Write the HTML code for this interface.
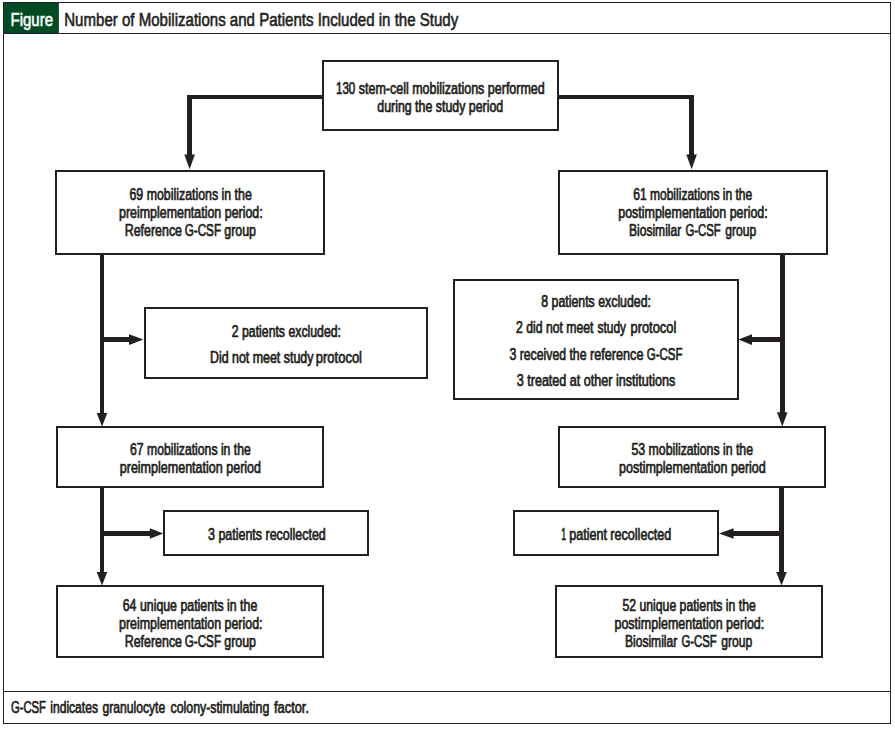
<!DOCTYPE html>
<html lang="en">
<head>
<meta charset="utf-8">
<title>Figure. Number of Mobilizations and Patients Included in the Study</title>
<style>
html,body{margin:0;padding:0;background:#fff;}
body{width:895px;height:729px;overflow:hidden;}
svg{display:block;}
text{font-family:"Liberation Sans",sans-serif;}
</style>
</head>
<body>
<svg width="895" height="729" viewBox="0 0 895 729">
<rect x="0" y="0" width="895" height="729" fill="#ffffff"/>
<!-- outer frame, header and footer rules -->
<g fill="none" stroke="#231f20" stroke-width="1" shape-rendering="crispEdges">
<rect x="3.5" y="2.5" width="887" height="721"/>
<line x1="3.5" y1="33.5" x2="890.5" y2="33.5"/>
<line x1="3.5" y1="691.5" x2="890.5" y2="691.5"/>
</g>
<rect x="4" y="3" width="54.9" height="30" fill="#004b23"/>
<!-- connectors -->
<g fill="#231f20">
<rect x="187" y="95" width="136" height="4"/>
<rect x="187" y="95" width="5" height="60"/>
<rect x="558" y="95" width="136" height="4"/>
<rect x="689" y="95" width="5" height="60"/>
<rect x="100" y="254" width="4" height="160"/>
<rect x="102" y="337" width="28" height="5"/>
<rect x="780" y="254" width="5" height="159"/>
<rect x="751" y="337" width="31" height="5"/>
<rect x="100" y="487" width="4" height="86"/>
<rect x="102" y="531" width="49" height="5"/>
<rect x="779" y="487" width="5" height="86"/>
<rect x="733" y="531" width="48" height="5"/>
</g>
<g fill="#231f20">
<polygon points="189.60,169.30 184.30,154.40 194.90,154.40"/>
<polygon points="691.60,169.30 686.30,154.40 696.90,154.40"/>
<polygon points="102.00,426.60 96.70,413.10 107.30,413.10"/>
<polygon points="143.40,339.60 129.00,334.30 129.00,344.90"/>
<polygon points="782.30,426.40 777.00,412.30 787.60,412.30"/>
<polygon points="738.40,339.60 752.00,334.30 752.00,344.90"/>
<polygon points="102.00,585.60 96.70,572.00 107.30,572.00"/>
<polygon points="163.30,533.50 149.80,528.20 149.80,538.80"/>
<polygon points="781.50,585.60 776.20,572.00 786.80,572.00"/>
<polygon points="719.00,533.50 733.60,528.20 733.60,538.80"/>
</g>
<!-- boxes -->
<g fill="#ffffff" stroke="#231f20" stroke-width="2">
<rect x="323.00" y="61.00" width="235.00" height="69.00"/>
<rect x="56.00" y="171.00" width="268.00" height="83.00"/>
<rect x="559.00" y="171.00" width="268.00" height="83.00"/>
<rect x="145.00" y="308.00" width="282.00" height="70.00"/>
<rect x="454.00" y="280.00" width="284.00" height="119.00"/>
<rect x="57.00" y="427.00" width="266.00" height="60.00"/>
<rect x="559.00" y="427.00" width="266.00" height="60.00"/>
<rect x="164.00" y="511.00" width="204.00" height="44.00"/>
<rect x="514.00" y="511.00" width="204.00" height="44.00"/>
<rect x="57.00" y="586.00" width="266.00" height="71.00"/>
<rect x="556.00" y="586.00" width="266.00" height="71.00"/>
</g>
<!-- labels -->
<text y="26" font-size="18.1" fill="#ffffff" stroke="#ffffff" stroke-width="0.60" x="10.47" textLength="42.55" lengthAdjust="spacingAndGlyphs">Figure</text>
<text y="26" font-size="18.1" fill="#231f20" stroke="#231f20" stroke-width="0.60" x="64.25" textLength="394.00" lengthAdjust="spacingAndGlyphs">Number of Mobilizations and Patients Included in the Study</text>
<text y="94" font-size="15.6" fill="#231f20" stroke="#231f20" stroke-width="0.70"><tspan x="335.96" textLength="19.31" lengthAdjust="spacingAndGlyphs">130</tspan> <tspan x="358.75" textLength="186.00" lengthAdjust="spacingAndGlyphs">stem-cell mobilizations performed</tspan></text>
<text y="112" font-size="15.6" fill="#231f20" stroke="#231f20" stroke-width="0.70" x="377.25" textLength="126.01" lengthAdjust="spacingAndGlyphs">during the study period</text>
<text y="200" font-size="15.6" fill="#231f20" stroke="#231f20" stroke-width="0.70" x="129.50" textLength="122.26" lengthAdjust="spacingAndGlyphs">69 mobilizations in the</text>
<text y="218" font-size="15.6" fill="#231f20" stroke="#231f20" stroke-width="0.70" x="118.99" textLength="143.76" lengthAdjust="spacingAndGlyphs">preimplementation period:</text>
<text y="236" font-size="15.6" fill="#231f20" stroke="#231f20" stroke-width="0.70"><tspan x="124.74" textLength="57.27" lengthAdjust="spacingAndGlyphs">Reference</tspan> <tspan x="184.75" textLength="36.26" lengthAdjust="spacingAndGlyphs">G-CSF</tspan> <tspan x="224.24" textLength="31.76" lengthAdjust="spacingAndGlyphs">group</tspan></text>
<text y="200" font-size="15.6" fill="#231f20" stroke="#231f20" stroke-width="0.70" x="633.25" textLength="119.00" lengthAdjust="spacingAndGlyphs">61 mobilizations in the</text>
<text y="218" font-size="15.6" fill="#231f20" stroke="#231f20" stroke-width="0.70" x="618.24" textLength="149.52" lengthAdjust="spacingAndGlyphs">postimplementation period:</text>
<text y="236" font-size="15.6" fill="#231f20" stroke="#231f20" stroke-width="0.70"><tspan x="628.99" textLength="52.26" lengthAdjust="spacingAndGlyphs">Biosimilar</tspan> <tspan x="685.49" textLength="35.26" lengthAdjust="spacingAndGlyphs">G-CSF</tspan> <tspan x="725.24" textLength="31.01" lengthAdjust="spacingAndGlyphs">group</tspan></text>
<text y="337" font-size="15.6" fill="#231f20" stroke="#231f20" stroke-width="0.70" x="231.75" textLength="109.26" lengthAdjust="spacingAndGlyphs">2 patients excluded:</text>
<text y="363" font-size="15.6" fill="#231f20" stroke="#231f20" stroke-width="0.70"><tspan x="209.99" textLength="70.25" lengthAdjust="spacingAndGlyphs">Did not meet</tspan> <tspan x="283.75" textLength="29.75" lengthAdjust="spacingAndGlyphs">study</tspan> <tspan x="315.74" textLength="46.27" lengthAdjust="spacingAndGlyphs">protocol</tspan></text>
<text y="307" font-size="15.6" fill="#231f20" stroke="#231f20" stroke-width="0.70" x="541.25" textLength="109.76" lengthAdjust="spacingAndGlyphs">8 patients excluded:</text>
<text y="333" font-size="15.6" fill="#231f20" stroke="#231f20" stroke-width="0.70"><tspan x="516.00" textLength="77.50" lengthAdjust="spacingAndGlyphs">2 did not meet</tspan> <tspan x="597.50" textLength="28.50" lengthAdjust="spacingAndGlyphs">study</tspan> <tspan x="630.48" textLength="45.78" lengthAdjust="spacingAndGlyphs">protocol</tspan></text>
<text y="360" font-size="15.6" fill="#231f20" stroke="#231f20" stroke-width="0.70"><tspan x="509.50" textLength="77.00" lengthAdjust="spacingAndGlyphs">3 received the</tspan> <tspan x="589.99" textLength="53.52" lengthAdjust="spacingAndGlyphs">reference</tspan> <tspan x="646.75" textLength="35.76" lengthAdjust="spacingAndGlyphs">G-CSF</tspan></text>
<text y="386" font-size="15.6" fill="#231f20" stroke="#231f20" stroke-width="0.70" x="516.75" textLength="158.50" lengthAdjust="spacingAndGlyphs">3 treated at other institutions</text>
<text y="455" font-size="15.6" fill="#231f20" stroke="#231f20" stroke-width="0.70" x="130.00" textLength="120.75" lengthAdjust="spacingAndGlyphs">67 mobilizations in the</text>
<text y="473" font-size="15.6" fill="#231f20" stroke="#231f20" stroke-width="0.70" x="119.75" textLength="141.26" lengthAdjust="spacingAndGlyphs">preimplementation period</text>
<text y="455" font-size="15.6" fill="#231f20" stroke="#231f20" stroke-width="0.70" x="631.50" textLength="121.50" lengthAdjust="spacingAndGlyphs">53 mobilizations in the</text>
<text y="473" font-size="15.6" fill="#231f20" stroke="#231f20" stroke-width="0.70" x="618.99" textLength="146.76" lengthAdjust="spacingAndGlyphs">postimplementation period</text>
<text y="540" font-size="15.6" fill="#231f20" stroke="#231f20" stroke-width="0.70" x="208.00" textLength="117.76" lengthAdjust="spacingAndGlyphs">3 patients recollected</text>
<text y="540" font-size="15.6" fill="#231f20" stroke="#231f20" stroke-width="0.70"><tspan x="561.18" textLength="4.87" lengthAdjust="spacingAndGlyphs">1</tspan> <tspan x="569.24" textLength="37.76" lengthAdjust="spacingAndGlyphs">patient</tspan> <tspan x="610.24" textLength="61.03" lengthAdjust="spacingAndGlyphs">recollected</tspan></text>
<text y="611" font-size="15.6" fill="#231f20" stroke="#231f20" stroke-width="0.70" x="122.75" textLength="134.50" lengthAdjust="spacingAndGlyphs">64 unique patients in the</text>
<text y="629" font-size="15.6" fill="#231f20" stroke="#231f20" stroke-width="0.70" x="118.99" textLength="143.51" lengthAdjust="spacingAndGlyphs">preimplementation period:</text>
<text y="647" font-size="15.6" fill="#231f20" stroke="#231f20" stroke-width="0.70"><tspan x="124.74" textLength="57.27" lengthAdjust="spacingAndGlyphs">Reference</tspan> <tspan x="184.75" textLength="36.26" lengthAdjust="spacingAndGlyphs">G-CSF</tspan> <tspan x="224.24" textLength="31.76" lengthAdjust="spacingAndGlyphs">group</tspan></text>
<text y="611" font-size="15.6" fill="#231f20" stroke="#231f20" stroke-width="0.70" x="622.50" textLength="133.25" lengthAdjust="spacingAndGlyphs">52 unique patients in the</text>
<text y="629" font-size="15.6" fill="#231f20" stroke="#231f20" stroke-width="0.70" x="614.50" textLength="149.76" lengthAdjust="spacingAndGlyphs">postimplementation period:</text>
<text y="647" font-size="15.6" fill="#231f20" stroke="#231f20" stroke-width="0.70"><tspan x="624.99" textLength="52.26" lengthAdjust="spacingAndGlyphs">Biosimilar</tspan> <tspan x="681.49" textLength="35.26" lengthAdjust="spacingAndGlyphs">G-CSF</tspan> <tspan x="721.24" textLength="31.01" lengthAdjust="spacingAndGlyphs">group</tspan></text>
<text y="713" font-size="15.6" fill="#231f20" stroke="#231f20" stroke-width="0.70"><tspan x="10.99" textLength="35.01" lengthAdjust="spacingAndGlyphs">G-CSF</tspan> <tspan x="50.24" textLength="47.76" lengthAdjust="spacingAndGlyphs">indicates</tspan> <tspan x="102.50" textLength="62.75" lengthAdjust="spacingAndGlyphs">granulocyte</tspan> <tspan x="170.50" textLength="98.76" lengthAdjust="spacingAndGlyphs">colony-stimulating</tspan> <tspan x="274.00" textLength="35.02" lengthAdjust="spacingAndGlyphs">factor.</tspan></text>
</svg>
</body>
</html>
